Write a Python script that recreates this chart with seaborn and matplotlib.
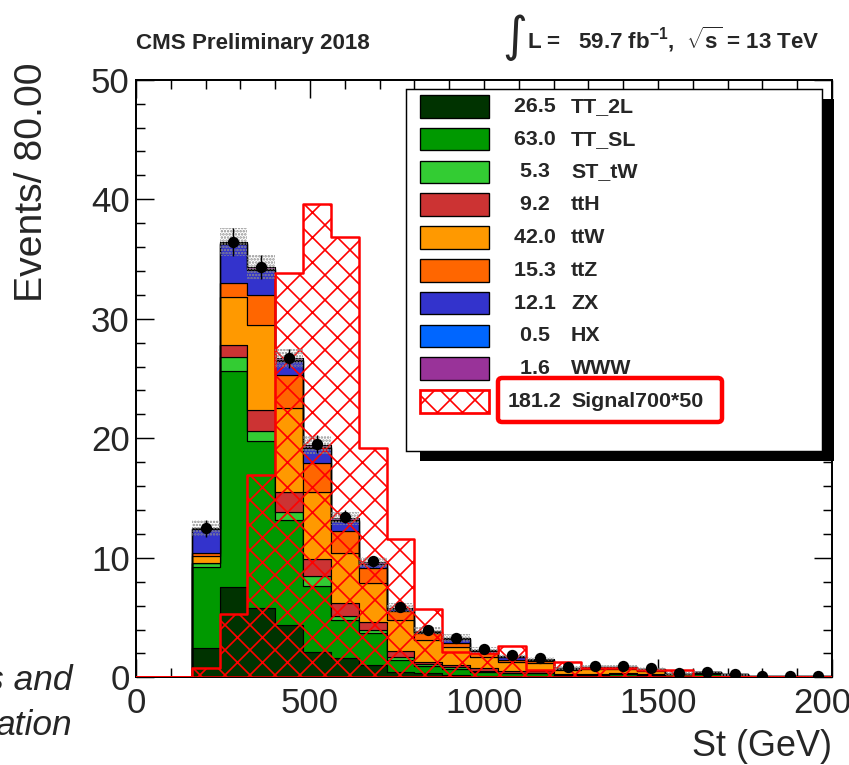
import numpy as np
import pandas as pd
import matplotlib
matplotlib.use("Agg")
import matplotlib.pyplot as plt
import seaborn as sns
from matplotlib import font_manager
from matplotlib.patches import Rectangle, FancyBboxPatch
from matplotlib.ticker import MultipleLocator

# St binning: 25 bins of 80 GeV between 0 and 2000 GeV
bin_edges = list(range(0, 2080, 80))
bin_centers = np.asarray(bin_edges[:-1]) + 40

process_names = ["TT_2L", "TT_SL", "ST_tW", "ttH", "ttW", "ttZ", "ZX", "HX", "WWW"]
process_colors = ["#003300", "#009900", "#33cc33", "#cc3333", "#ff9900",
                  "#ff6600", "#3333cc", "#0066ff", "#993399"]

# expected events per bin for each background process
tt_2l = [0, 0, 2.43, 7.55, 5.80, 4.38, 2.14, 1.60, 1.00, 0.47, 0.33, 0.19,
         0.12, 0.10, 0.08, 0.04, 0.05, 0.06, 0.04, 0.02, 0.03, 0.08, 0, 0, 0]
tt_sl = [0, 0, 6.77, 18.09, 13.95, 8.82, 5.53, 3.22, 2.67, 0.94, 0.61, 0.53,
         0.35, 0.25, 0.24, 0.11, 0.15, 0.19, 0.16, 0.06, 0.27, 0.09, 0, 0, 0]
st_tw = [0, 0, 0.34, 1.17, 0.84, 0.60, 0.83, 0.35, 0.28, 0.32, 0.14, 0.15,
         0.08, 0.05, 0.05, 0.02, 0.02, 0.02, 0.02, 0.01, 0.01, 0, 0, 0, 0]
tth = [0, 0, 0.05, 0.97, 1.81, 1.67, 1.39, 1.06, 0.64, 0.50, 0.20, 0.16,
       0.20, 0.12, 0.15, 0.08, 0.06, 0.05, 0.05, 0.02, 0.02, 0, 0, 0, 0]
ttw = [0, 0, 0.60, 4.07, 7.07, 7.03, 5.64, 4.18, 3.26, 2.57, 1.81, 1.53,
       0.97, 0.79, 0.65, 0.35, 0.40, 0.38, 0.28, 0.14, 0.08, 0.05, 0.05, 0.05, 0.05]
ttz = [0, 0, 0.19, 1.17, 2.52, 2.80, 2.43, 1.86, 1.32, 0.77, 0.61, 0.34,
       0.34, 0.14, 0.20, 0.12, 0.12, 0.12, 0.10, 0.04, 0.03, 0.02, 0.02, 0.02, 0.02]
zx = [0, 0, 2.04, 3.23, 2.13, 1.17, 1.27, 0.84, 0.27, 0.11, 0.08, 0.28,
      0.15, 0.26, 0.10, 0.02, 0.06, 0.04, 0.03, 0.01, 0.01, 0, 0, 0, 0]
hx = [0, 0, 0.03, 0.06, 0.07, 0.07, 0.06, 0.05, 0.04, 0.03, 0.02, 0.02,
      0.02, 0.01, 0.01, 0.01, 0, 0, 0, 0, 0, 0, 0, 0, 0]
www = [0, 0, 0.05, 0.12, 0.15, 0.15, 0.15, 0.14, 0.14, 0.12, 0.10, 0.09,
       0.07, 0.06, 0.05, 0.04, 0.04, 0.04, 0.03, 0.01, 0.01, 0.01, 0.01, 0.01, 0.01]

# signal (mass 700) scaled by 50
signal = [0, 0, 0.75, 5.27, 16.93, 33.86, 39.60, 36.82, 19.16, 11.55, 5.74, 2.14,
          2.06, 2.65, 0.61, 1.31, 0.75, 0.75, 0.62, 0.62, 0, 0, 0, 0, 0]
signal_label = "Signal700*50"

# total prediction points with their uncertainties
points = [0, 0, 12.47, 36.43, 34.30, 26.70, 19.50, 13.44, 9.70, 5.91, 3.96, 3.32,
          2.37, 1.87, 1.59, 0.84, 0.95, 0.95, 0.75, 0.33, 0.47, 0.25, 0.08, 0.08, 0.08]
point_err = [0, 0, 0.70, 1.20, 1.00, 0.80, 0.75, 0.55, 0.45, 0.35, 0.30, 0.30,
             0.25, 0.20, 0.20, 0.15, 0.15, 0.15, 0.15, 0.10, 0.10, 0.10, 0.05, 0.05, 0.05]

x_ticks = [0, 500, 1000, 1500, 2000]
y_ticks = [0, 10, 20, 30, 40, 50]

background = [tt_2l, tt_sl, st_tw, tth, ttw, ttz, zx, hx, www]

# ---------------------------------------------------------------- figure
W, H, DPI = 849, 765, 75
sns.set_style("ticks")
plt.rcParams["font.family"] = ["Liberation Sans", "DejaVu Sans"]
plt.rcParams["hatch.linewidth"] = 1.6

installed = {f.name for f in font_manager.fontManager.ttflist}
if "Liberation Sans Narrow" in installed:
    head_family, head_size = "Liberation Sans Narrow", 25.3
else:
    head_family, head_size = "Liberation Sans", 21.5

fig = plt.figure(figsize=(W / DPI, H / DPI), dpi=DPI)


def fx(px):
    return px / W


def fy(py):
    return 1 - py / H


ax = fig.add_axes([fx(136), fy(677.3), fx(832) - fx(136), fy(79.8) - fy(677.3)])

bkg = pd.DataFrame({
    "St": np.tile(bin_centers, len(process_names)),
    "Events": np.concatenate([np.asarray(v, float) for v in background]),
    "process": np.repeat(process_names, len(bin_centers)),
})
# seaborn puts the first hue level on top of the stack, so feed it top-down
sns.histplot(data=bkg, x="St", weights="Events", hue="process",
             hue_order=process_names[::-1],
             palette=dict(zip(process_names, process_colors)),
             multiple="stack", bins=bin_edges, element="step", fill=True,
             alpha=1, edgecolor="black", linewidth=1.1, legend=False, ax=ax)

# signal, hatched, drawn over the stack
sns.histplot(x=bin_centers, weights=signal, bins=bin_edges, element="step",
             fill=True, color="red", facecolor="none", edgecolor="red",
             hatch="x", linewidth=2.4, alpha=1, ax=ax, zorder=3)

# uncertainty band around the stacked total
total = np.sum(np.asarray(background, float), axis=0)
err = np.asarray(point_err, float)
mask = total > 0
ax.bar(bin_centers[mask], 2 * err[mask], bottom=total[mask] - err[mask], width=80,
       facecolor="none", edgecolor="#8a8a8a", linewidth=0, hatch="....", zorder=4)

pts = np.asarray(points, float)
pm = pts > 0
ax.errorbar(bin_centers[pm], pts[pm], yerr=err[pm], fmt="none", ecolor="black",
            elinewidth=1.4, capsize=0, zorder=5)
sns.scatterplot(x=bin_centers[pm], y=pts[pm], color="black", s=118, marker="o",
                edgecolor="black", linewidth=0, ax=ax, zorder=6)

ax.set_xlim(0, 2000)
ax.set_ylim(0, 50)
ax.set_xticks(x_ticks)
ax.set_xticklabels([str(t) for t in x_ticks])
ax.set_yticks(y_ticks)
ax.set_yticklabels([str(t) for t in y_ticks])
ax.xaxis.set_minor_locator(MultipleLocator(100))
ax.yaxis.set_minor_locator(MultipleLocator(2))
ax.tick_params(which="both", direction="in", top=True, right=True, width=1.4,
               color="black")
ax.tick_params(which="major", length=17, labelsize=33.5)
ax.tick_params(which="minor", length=8.5)
ax.tick_params(axis="x", which="major", pad=9.5)
ax.tick_params(axis="y", which="major", pad=6)
for s in ax.spines.values():
    s.set_linewidth(1.9)
    s.set_color("black")
ax.set_xlabel("")
ax.set_ylabel("")

# axis titles
fig.text(fx(832), fy(756), "St (GeV)", ha="right", va="baseline", fontsize=34.5)
fig.text(fx(32), fy(62), "Events/ 80.00", ha="center", va="top", rotation=90,
         fontsize=37.5)

# header
fig.text(fx(136), fy(49), "CMS Preliminary 2018", ha="left", va="baseline",
         fontsize=head_size, fontweight="bold", fontfamily=[head_family])
fig.text(fx(527), fy(51), "\u222b", ha="right", va="baseline", fontsize=46,
         fontfamily=["DejaVu Sans"])
plt.rcParams["mathtext.fontset"] = "custom"
plt.rcParams["mathtext.rm"] = head_family + ":bold"
plt.rcParams["mathtext.bf"] = head_family + ":bold"
plt.rcParams["mathtext.it"] = head_family + ":bold"
fig.text(fx(820), fy(49),
         r"L =   59.7 fb$^{\mathbf{-1}}$,  $\sqrt{\mathbf{s}}$ = 13 TeV",
         ha="right", va="baseline", fontsize=head_size, fontweight="bold",
         fontfamily=[head_family])

# side note partially outside the frame
fig.text(fx(72), fy(690), "s and", ha="right", va="baseline", fontsize=34,
         style="italic")
fig.text(fx(72), fy(735), "ation", ha="right", va="baseline", fontsize=34,
         style="italic")

# legend box with shadow
box_l, box_t, box_r, box_b = 405.7, 89.3, 822, 450.7


def rect_px(x0, y0, x1, y1, **kw):
    return Rectangle((fx(x0), fy(y1)), fx(x1) - fx(x0), fy(y0) - fy(y1),
                     transform=fig.transFigure, **kw)


fig.add_artist(rect_px(box_l + 14, box_t + 10, box_r + 12, box_b + 10,
                       facecolor="black", edgecolor="none", zorder=5))
fig.add_artist(rect_px(box_l, box_t, box_r, box_b, facecolor="white",
                       edgecolor="black", linewidth=1.4, zorder=6))

row0, row_step = 106.3, 32.8
leg_size = 20.5
entries = list(zip(process_names, process_colors, background))
for i, (name, col, vals) in enumerate(entries):
    yc = row0 + i * row_step
    fig.add_artist(rect_px(419.5, yc - 11.3, 489, yc + 11.3, facecolor=col,
                           edgecolor="black", linewidth=1.3, zorder=7))
    fig.text(fx(508), fy(yc), f"{np.sum(vals):5.1f}", ha="left", va="center",
             fontsize=leg_size, fontweight="bold", zorder=8)
    fig.text(fx(571), fy(yc), name, ha="left", va="center", fontsize=leg_size,
             fontweight="bold", zorder=8)

yc = row0 + len(entries) * row_step
fig.add_artist(rect_px(419.5, yc - 11.3, 489, yc + 11.3, facecolor="white",
                       edgecolor="red", linewidth=2.6, hatch="x", zorder=7))
fig.text(fx(508), fy(yc), f"{np.sum(signal):5.1f}", ha="left", va="center",
         fontsize=leg_size, fontweight="bold", zorder=8)
fig.text(fx(571), fy(yc), signal_label, ha="left", va="center", fontsize=leg_size,
         fontweight="bold", zorder=8)
fig.add_artist(FancyBboxPatch((fx(498), fy(422)), fx(722) - fx(498), fy(378) - fy(422),
                              boxstyle="round,pad=0,rounding_size=0.005",
                              transform=fig.transFigure, facecolor="none",
                              edgecolor="#ff0000", linewidth=4.3, zorder=9))

fig.savefig("out.png", dpi=DPI)
